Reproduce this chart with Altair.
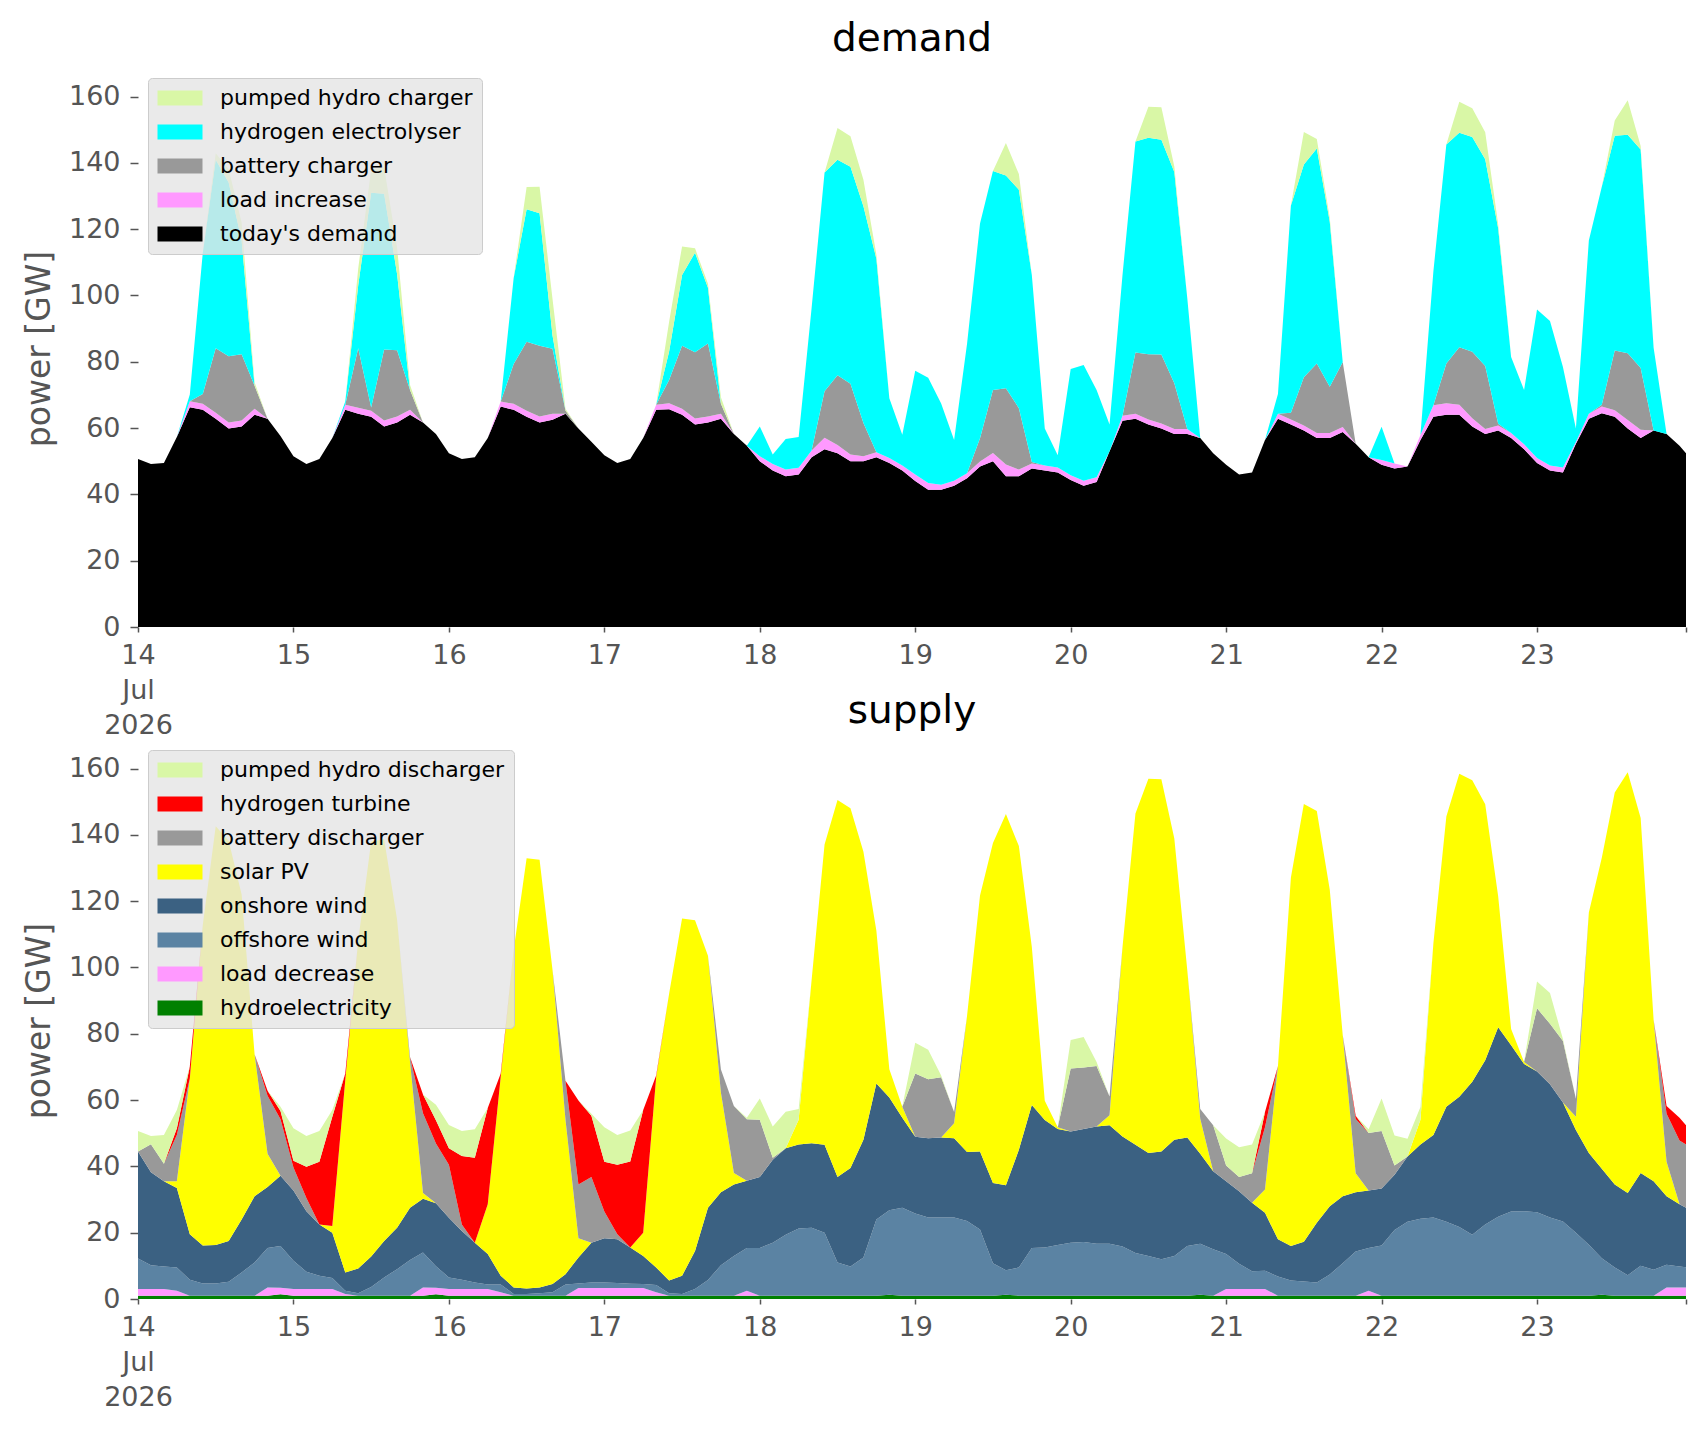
import altair as alt
import pandas as pd

# time axis: every 2 hours from 14 Jul 2026 00:00, plus the last hour of the 23rd
hours = list(range(0, 240, 2)) + [239]

##### demand side (GW), one line per day: 00h 02h ... 22h

today_demand = [
    50.7, 49.2, 49.5, 57.3, 66.3, 65.5, 62.8, 59.9, 60.5, 64.0, 62.8, 57.6,
    51.5, 49.2, 50.7, 57.0, 65.5, 64.3, 63.4, 60.5, 61.7, 64.0, 61.7, 58.2,
    52.4, 50.7, 51.2, 57.0, 66.5, 65.5, 63.4, 61.7, 62.5, 64.3, 59.9, 55.9,
    51.8, 49.5, 50.7, 57.0, 65.5, 65.7, 64.0, 61.1, 61.7, 62.8, 58.2, 54.7,
    50.0, 47.2, 45.5, 46.0, 51.2, 53.6, 52.4, 50.0, 50.0, 51.2, 49.5, 47.2,
    44.0, 41.4, 41.4, 42.6, 44.9, 48.4, 50.0, 45.5, 45.5, 47.8, 47.2, 46.6,
    44.3, 42.6, 43.7, 53.0, 62.2, 62.8, 61.1, 59.9, 58.2, 58.2, 57.0, 52.4,
    48.9, 46.0, 46.6, 56.4, 62.8, 61.1, 59.3, 57.0, 57.0, 58.8, 55.3, 51.2,
    48.9, 47.8, 48.4, 56.4, 63.4, 64.0, 64.0, 60.5, 58.2, 59.3, 57.0, 53.6,
    49.5, 47.2, 46.6, 55.3, 62.8, 64.5, 63.4, 59.9, 57.0, 59.3, 58.2, 54.7,
    52.4,
]

load_increase = [
    0, 0, 0, 0, 1.8, 1.8, 1.8, 1.8, 1.8, 1.8, 0, 0,
    0, 0, 0, 0, 1.5, 1.8, 1.8, 1.8, 1.8, 1.5, 0, 0,
    0, 0, 0, 0, 1.5, 1.8, 1.8, 1.8, 1.8, 0, 0, 0,
    0, 0, 0, 0, 1.5, 1.8, 1.8, 1.8, 1.8, 1.5, 0, 0,
    1.5, 2, 2, 2, 2, 3.5, 2.5, 2, 1.5, 1.5, 1.5, 1.5,
    2, 2, 1.5, 1.5, 1.5, 1.5, 2.5, 3.5, 2, 1.5, 1.5, 1.5,
    1.5, 1.5, 1.5, 0, 1.5, 1.5, 1.5, 1.5, 1.5, 1.5, 0, 0,
    0, 0, 0, 0, 1.5, 1.5, 1.5, 1.5, 1.5, 1.5, 0, 0,
    1.5, 1.5, 0, 1.5, 3.5, 3.5, 3, 2.5, 1.5, 1.5, 1.5, 1.5,
    1.5, 1.5, 1.5, 0.5, 1.5, 2, 2, 2.5, 2.5, 0, 0, 0,
    0,
]

battery_charger = [
    0, 0, 0, 0, 0, 3, 19.5, 20, 20, 7, 0, 0,
    0, 0, 0, 0, 0, 18, 1, 21.4, 20, 6, 0, 0,
    0, 0, 0, 0, 0, 12, 20.8, 21.3, 19.6, 1, 0, 0,
    0, 0, 0, 0, 0, 7, 19, 20, 22, 3, 0, 0,
    0, 0, 0, 0, 0, 14, 21, 21.4, 10, 0, 0, 0,
    0, 0, 0, 0, 0, 7, 19, 23, 18.5, 0.5, 0, 0,
    0, 0, 0, 0, 0, 18.5, 19.7, 20.8, 13.8, 0, 0, 0,
    0, 0, 0, 0, 0, 2, 14.5, 21, 14, 19.6, 0, 0,
    0, 0, 0, 0, 0, 12, 17.4, 20, 19, 0.5, 0, 0,
    0, 0, 0, 0, 0, 0.5, 18, 20.2, 18.6, 0, 0, 0,
    0,
]

hydrogen_electrolyser = [
    0, 0, 0, 0, 2, 42.5, 56.8, 52.4, 34.3, 0, 0, 0,
    0, 0, 0, 0, 1, 19, 64.8, 47, 23, 0, 0, 0,
    0, 0, 0, 0, 0, 26, 40, 40, 4, 0, 0, 0,
    0, 0, 0, 0, 0, 8.6, 21.4, 30, 16.8, 0, 0, 0,
    9, 2.8, 9.2, 9.3, 43, 66, 65, 65.4, 65.4, 58.4, 18, 9.3,
    31.3, 31.8, 24.5, 12.3, 39, 64.8, 66, 64.2, 65.9, 56.4, 11.2, 3.7,
    32, 34.9, 26.3, 8.1, 42.5, 63.6, 65.3, 64.8, 63.7, 39.5, 0, 0,
    0, 0, 0, 0, 6, 62.5, 64.2, 64.8, 49.7, 0, 0, 0,
    10, 0, 0, 0, 40.4, 66, 64.7, 64.8, 62.4, 59, 22.9, 16.4,
    44.8, 43.6, 30.3, 4.1, 52.3, 65.8, 64.8, 65.9, 65.9, 24.9, 0, 0,
    0,
]

pumped_hydro_charger = [
    0, 0, 0, 0, 0, 0, 2, 4, 5.4, 1, 0, 0,
    0, 0, 0, 0, 0, 5, 7, 8, 8, 1.5, 0, 0,
    0, 0, 0, 0, 0, 0, 6.7, 8, 11, 0.5, 0, 0,
    0, 0, 0, 0, 0, 9, 8.6, 1.3, 1.2, 2, 0, 0,
    0, 0, 0, 0, 0, 0, 9.6, 9.2, 8, 1.2, 0, 0,
    0, 0, 0, 0, 0, 0, 0, 9.8, 4.7, 0, 0, 0,
    0, 0, 0, 0, 0, 0, 9.3, 9.8, 1.7, 0, 0, 0,
    0, 0, 0, 0, 0, 0, 9.8, 2.9, 1.2, 0, 0, 0,
    0, 0, 0, 0, 0, 0, 9.3, 8.7, 8.1, 1.2, 0, 0,
    0, 0, 0, 0, 0, 0, 4.6, 10.4, 1.1, 0, 0, 0,
    0,
]

##### supply side (GW)

hydroelectricity = [
    1, 1, 1, 1, 1, 1, 1, 1, 1, 1, 1, 1.4,
    1, 1, 1, 1, 1, 1, 1, 1, 1, 1, 1, 1.4,
    1, 1, 1, 1, 1, 1, 1, 1, 1, 1, 1, 1,
    1, 1, 1, 1, 1, 1, 1, 1, 1, 1, 1, 1,
    1, 1, 1, 1, 1, 1, 1, 1, 1, 1, 1.3, 1,
    1, 1, 1, 1, 1, 1, 1, 1.3, 1, 1, 1, 1,
    1, 1, 1, 1, 1, 1, 1, 1, 1, 1, 1.3, 1,
    1, 1, 1, 1, 1, 1, 1, 1, 1, 1, 1, 1,
    1, 1, 1, 1, 1, 1, 1, 1, 1, 1, 1, 1,
    1, 1, 1, 1, 1, 1.3, 1, 1, 1, 1, 1, 1,
    1,
]

load_decrease = [
    2, 2, 2, 1.5, 0, 0, 0, 0, 0, 0, 2.5, 2,
    2, 2, 2, 2, 0.5, 0, 0, 0, 0, 0, 2.5, 2,
    2, 2, 2, 2, 1, 0, 0, 0, 0, 0, 2.3, 2.3,
    2.3, 2.3, 2.3, 2.3, 1, 0, 0, 0, 0, 0, 0, 1.5,
    0, 0, 0, 0, 0, 0, 0, 0, 0, 0, 0, 0,
    0, 0, 0, 0, 0, 0, 0, 0, 0, 0, 0, 0,
    0, 0, 0, 0, 0, 0, 0, 0, 0, 0, 0, 0,
    2, 2, 2, 2, 0, 0, 0, 0, 0, 0, 0, 1.5,
    0, 0, 0, 0, 0, 0, 0, 0, 0, 0, 0, 0,
    0, 0, 0, 0, 0, 0, 0, 0, 0, 0, 2.5, 2.5,
    2.5,
]

offshore_wind = [
    9.2, 7.2, 6.8, 7.0, 4.8, 3.7, 3.7, 4.2, 7.0, 10.0, 11.9, 12.6,
    8.5, 5.2, 4.0, 3.3, 1.0, 0.7, 2.6, 5.5, 8.0, 10.8, 10.5, 6.5,
    3.5, 2.8, 2.0, 1.4, 2.4, 0.5, 0.5, 0.7, 1.0, 3.4, 1.4, 1.7,
    1.7, 1.5, 1.3, 1.2, 2.2, 0.7, 0.5, 2.0, 4.7, 9.2, 12.0, 12.9,
    14.4, 16.0, 18.4, 20.3, 20.5, 19.0, 10.0, 8.8, 11.5, 23.0, 25.5, 26.5,
    24.8, 23.6, 23.6, 23.6, 22.5, 20.0, 9.8, 7.4, 8.5, 14.4, 14.5, 15.3,
    16.0, 16.2, 15.7, 15.7, 14.8, 12.9, 12.0, 11.0, 12.0, 15.0, 15.4, 14.0,
    10.6, 7.6, 5.4, 5.5, 5.8, 4.6, 4.3, 4.0, 6.4, 9.8, 13.3, 12.9,
    15.1, 19.8, 22.3, 23.2, 23.6, 22.3, 20.7, 18.4, 21.5, 23.8, 25.4, 25.5,
    25.2, 23.6, 22.4, 19.0, 15.4, 11.0, 8.5, 6.2, 9.0, 7.8, 6.8, 6.3,
    6.1,
]

onshore_wind = [
    32.3, 28.0, 25.7, 24.0, 13.7, 11.4, 11.6, 12.3, 16.0, 20.0, 18.4, 21.2,
    21.2, 18.3, 15.5, 13.7, 5.5, 7.5, 9.2, 11.0, 12.5, 15.7, 16.2, 19.0,
    18.0, 14.7, 12.0, 9.2, 2.6, 2.0, 1.7, 1.8, 2.5, 3.1, 7.8, 12.0,
    13.3, 13.2, 10.9, 8.5, 5.3, 3.9, 5.5, 11.5, 21.8, 22.0, 21.5, 20.3,
    21.4, 25.0, 26.1, 25.3, 25.5, 26.5, 25.8, 29.7, 35.5, 41.0, 34.0, 27.2,
    23.1, 23.9, 24.1, 23.9, 20.8, 23.5, 24.2, 25.6, 35.5, 43.1, 38.5, 35.0,
    33.5, 34.1, 35.3, 35.7, 33.2, 32.6, 31.0, 32.5, 35.0, 32.7, 27.1, 23.5,
    21.9, 21.9, 20.6, 17.5, 11.2, 10.4, 12.0, 18.0, 20.6, 20.2, 17.9, 17.3,
    17.2, 16.7, 19.7, 22.4, 24.9, 34.7, 39.3, 46.1, 49.5, 57.2, 50.1, 44.4,
    42.4, 40.2, 35.9, 31.0, 27.6, 27.0, 25.0, 24.8, 28.0, 26.7, 20.7, 18.8,
    17.9,
]

solar_pv = [
    0, 0, 0, 2, 47, 96.7, 126.3, 120.7, 98, 42.8, 10, 0,
    0, 0, 0, 2, 58, 98.9, 125.2, 121.2, 93, 44, 1.8, 0,
    0, 0, 0, 15, 60, 101.8, 129.7, 129, 94.7, 46.6, 5.8, 0,
    0, 0, 0, 7, 57.4, 86.5, 107.8, 99.7, 76, 30, 3.5, 0,
    0, 0, 0, 7.5, 49.2, 90.6, 113.7, 108.5, 86.9, 46.1, 8.5, 3.3,
    0, 0, 0, 4.5, 41.1, 77.2, 102.5, 112, 91.6, 47.7, 5.8, 0.5,
    0, 0, 0, 3, 57.2, 99.9, 112.9, 112.3, 90.9, 50.5, 10.6, 0,
    0, 0, 0, 7, 52.3, 111.1, 132, 124.2, 95.4, 48.6, 5.7, 0,
    0, 0, 0, 7.5, 57.8, 87.5, 97.4, 91, 77.2, 39.5, 4.9, 0.6,
    0, 0, 0, 4, 72.6, 93.8, 118.3, 126.9, 107.1, 48.7, 10.4, 0,
    0,
]

battery_discharger = [
    0, 8.5, 5.3, 14, 0, 0, 0, 0, 0, 0, 17.5, 17,
    7, 4, 0, 0, 0, 0, 0, 0, 0, 1.5, 24, 18,
    16, 2, 0, 0, 0, 0, 0, 0, 0, 11.7, 16.2, 19.8,
    8.1, 1.5, 0, 0, 0, 0, 0, 0, 0, 7, 20.2, 18.5,
    17.3, 0.6, 0, 0, 0, 0, 0, 0, 0, 0, 0, 0,
    19.1, 17.8, 18.2, 3.4, 0, 0, 0, 0, 0, 0, 0, 0,
    19, 18.5, 18.3, 5.7, 0, 0, 0, 0, 0, 0, 2.9, 13.9,
    4.8, 4.3, 8.9, 18.8, 0, 0, 0, 0, 0, 0, 16.4, 17.4,
    17.4, 2.8, 0, 0, 0, 0, 0, 0, 0, 0, 0, 0,
    19.1, 18.2, 18.5, 5.4, 0, 0, 0, 0, 0, 0, 14.5, 19.2,
    19.1,
]

hydrogen_turbine = [
    0, 0, 0, 2, 3.6, 0, 0, 0, 0, 0, 1.5, 2.5,
    2, 9.4, 18.9, 33, 2, 0, 0, 0, 0, 0, 5.7, 7,
    5, 20.6, 25.6, 29, 1, 0, 0, 0, 0, 0, 25.4, 18.5,
    15, 21, 26, 37, 0.5, 0, 0, 0, 0, 0, 0, 0,
    0, 0, 0, 0, 0, 0, 0, 0, 0, 0, 0, 0,
    0, 0, 0, 0, 0, 0, 0, 0, 0, 0, 0, 0,
    0, 0, 0, 0, 0, 0, 0, 0, 0, 0, 0, 0,
    0, 0, 0, 4.6, 0, 0, 0, 0, 0, 0, 1, 0,
    0, 0, 0, 0, 0, 0, 0, 0, 0, 0, 0, 0,
    0, 0, 0, 0, 0, 0, 0, 0, 0, 0, 2.3, 6.9,
    5.8,
]

pumped_hydro_discharger = [
    6.2, 2.5, 8.7, 5.5, 0, 0, 0, 0, 0, 0, 0, 1.3,
    9.8, 9.3, 9.3, 2, 0, 0, 0, 0, 0, 0, 0, 4.7,
    7, 7.6, 8.6, 0, 0, 0, 0, 0, 0, 0, 0, 0.6,
    10.4, 9, 9.3, 0, 0, 0, 0, 0, 0, 0, 0, 0.5,
    6.4, 9.4, 11, 3.2, 0, 0, 0, 0, 0, 0, 0, 0,
    9.3, 8.9, 0.5, 0, 0, 0, 0, 0, 0, 0, 0, 0,
    8.6, 9.2, 1.2, 0, 0, 0, 0, 0, 0, 0, 0, 0,
    8.1, 9, 8.7, 0, 0, 0, 0, 0, 0, 0, 0, 1.1,
    9.8, 9, 5.3, 3.8, 0, 0, 0, 0, 0, 0, 0, 0,
    8.1, 9.3, 0.6, 0, 0, 0, 0, 0, 0, 0, 0, 0,
    0,
]

# stack order bottom -> top, with colours
demand_stack = [
    ("today's demand", today_demand, "#000000"),
    ("load increase", load_increase, "#ff99ff"),
    ("battery charger", battery_charger, "#999999"),
    ("hydrogen electrolyser", hydrogen_electrolyser, "#00ffff"),
    ("pumped hydro charger", pumped_hydro_charger, "#d9f7a6"),
]

supply_stack = [
    ("hydroelectricity", hydroelectricity, "#008000"),
    ("load decrease", load_decrease, "#ff99ff"),
    ("offshore wind", offshore_wind, "#5b83a3"),
    ("onshore wind", onshore_wind, "#3b6182"),
    ("solar PV", solar_pv, "#ffff00"),
    ("battery discharger", battery_discharger, "#999999"),
    ("hydrogen turbine", hydrogen_turbine, "#ff0000"),
    ("pumped hydro discharger", pumped_hydro_discharger, "#d9f7a6"),
]

start = pd.Timestamp("2026-07-14")
times = [(start + pd.Timedelta(hours=h)).strftime("%Y-%m-%dT%H:%M:%S") for h in hours]


def long_frame(stack):
    rows = []
    for k, (name, values, _) in enumerate(stack):
        for t, v in zip(times, values):
            rows.append({"time": t, "tech": name, "value": v, "k": k})
    return pd.DataFrame(rows)


GREY = "#555555"
FONT = "DejaVu Sans"

x_ticks = [alt.DateTime(year=2026, month=7, date=d) for d in range(14, 24)]
x_ticks.append(alt.DateTime(year=2026, month=7, date=23, hours=23))

label_expr = (
    "timeFormat(datum.value, '%d %H') == '14 00' ? ['14', 'Jul', '2026'] : "
    "(timeFormat(datum.value, '%H') == '23' ? '' : timeFormat(datum.value, '%d'))"
)


##### Function to create one stacked area panel

def stack_panel(stack, title):
    names = [s[0] for s in stack][::-1]
    colors = [s[2] for s in stack][::-1]

    area = (
        alt.Chart(long_frame(stack), title=alt.Title(
            title, fontSize=39, font=FONT, fontWeight="normal",
            color="black", anchor="middle", offset=11))
        .mark_area(interpolate="linear", opacity=1, strokeWidth=0)
        .encode(
            x=alt.X(
                "time:T",
                scale=alt.Scale(
                    domain=[alt.DateTime(year=2026, month=7, date=14),
                            alt.DateTime(year=2026, month=7, date=23, hours=23)],
                    nice=False),
                axis=alt.Axis(
                    values=x_ticks, labelExpr=label_expr, title=None,
                    grid=False, domain=False, tickSize=5, tickWidth=1.5,
                    tickColor=GREY, labelFontSize=27, labelColor=GREY,
                    labelFont=FONT, labelPadding=10, labelLineHeight=35,
                    labelOverlap=False, labelFlush=False, labelBound=False),
            ),
            y=alt.Y(
                "value:Q",
                stack="zero",
                scale=alt.Scale(domain=[0, 168], nice=False),
                axis=alt.Axis(
                    values=list(range(0, 161, 20)), title="power [GW]",
                    titleFontSize=33, titleColor=GREY, titleFont=FONT,
                    titleFontWeight="normal", titlePadding=12,
                    labelFontSize=27, labelColor=GREY, labelFont=FONT,
                    labelPadding=10, tickSize=8, tickWidth=1.5, tickColor=GREY,
                    grid=False, domain=False),
            ),
            color=alt.Color(
                "tech:N",
                scale=alt.Scale(domain=names, range=colors),
                legend=alt.Legend(
                    title=None, orient="none", legendX=10, legendY=8,
                    fillColor="rgba(229,229,229,0.8)", strokeColor="#cccccc",
                    cornerRadius=4, padding=9, rowPadding=12,
                    labelFontSize=22, labelFont=FONT, labelColor="black",
                    labelOffset=41, labelLimit=400,
                    symbolType="M-1.4,-1H4.6V1H-1.4Z", symbolSize=225,
                    symbolStrokeWidth=0, symbolOpacity=1),
            ),
            order=alt.Order("k:Q", sort="ascending"),
            tooltip=["time:T", "tech:N", "value:Q"],
        )
        .properties(width=1548, height=557)
    )
    return area


demand = stack_panel(demand_stack, "demand")
supply = stack_panel(supply_stack, "supply")

chart = (
    alt.vconcat(demand, supply, spacing=115, bounds="flush")
    .resolve_scale(color="independent")
    .properties(padding={"left": 15, "top": 12, "right": 8, "bottom": 8})
    .configure(font=FONT)
    .configure_view(stroke=None)
)

chart.save("out.html", embed_options={"renderer": "svg", "actions": False})
